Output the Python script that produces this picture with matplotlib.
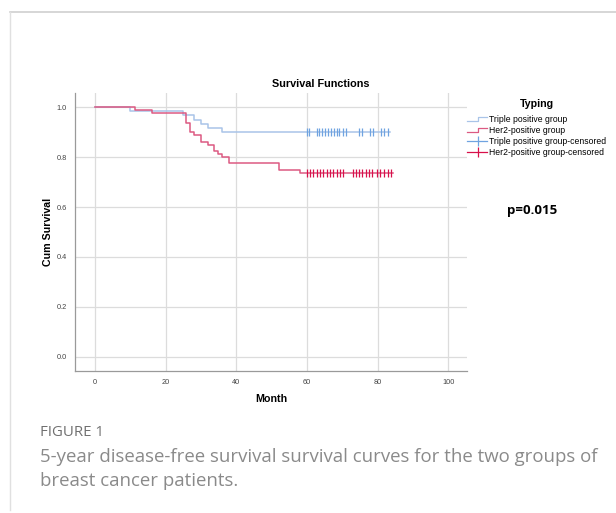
import matplotlib
matplotlib.use("Agg")
import matplotlib.pyplot as plt
from matplotlib.lines import Line2D
from matplotlib.legend_handler import HandlerBase

# Kaplan-Meier steps (month, survival after the step)
tp_times = [0, 9.9, 25.0, 28.1, 30.0, 32.0, 35.9]
tp_surv = [1.0, 0.983, 0.967, 0.950, 0.933, 0.917, 0.900]
tp_end = 83.5
tp_cens = [60.0, 60.7, 62.8, 63.5, 64.4, 65.2, 66.1, 66.8, 67.7, 68.5,
           69.2, 70.1, 71.0, 74.8, 75.6, 77.9, 78.6, 80.9, 81.8, 83.0]

h2_times = [0, 11.3, 16.3, 25.8, 26.8, 28.0, 30.0, 32.0, 33.8, 34.8, 35.9, 38.0, 52.0, 58.0]
h2_surv = [1.0, 0.9875, 0.975, 0.9375, 0.900, 0.8875, 0.8625, 0.850, 0.825,
           0.8125, 0.800, 0.775, 0.750, 0.7375]
h2_end = 84.4
h2_cens = [60.0, 60.8, 61.8, 62.8, 63.7, 64.6, 65.6, 66.5, 67.4, 68.4, 69.3, 70.1,
           72.9, 73.8, 74.8, 75.7, 76.6, 77.6, 78.5, 79.7, 80.8, 81.8, 83.0, 83.9]

labels = ["Triple positive group", "Her2-positive group",
          "Triple positive group-censored", "Her2-positive group-censored"]

blue_line = "#a9c4e8"
blue_mark = "#6fa3e0"
red_line = "#dc5a82"
red_mark = "#d8104a"

W, H = 616, 513
fig = plt.figure(figsize=(W / 100, H / 100), dpi=100)
ax = fig.add_axes([75 / W, 1 - 371 / H, (466.7 - 75) / W, (371 - 93) / H])

ax.step(tp_times + [tp_end], tp_surv + [tp_surv[-1]], where="post", color=blue_line, lw=1.1)
ax.step(h2_times + [h2_end], h2_surv + [h2_surv[-1]], where="post", color=red_line, lw=1.1)
ax.plot(tp_cens, [tp_surv[-1]] * len(tp_cens), ls="none", marker="|", ms=5.5, mew=0.9, color=blue_mark)
ax.plot(h2_cens, [h2_surv[-1]] * len(h2_cens), ls="none", marker="|", ms=5.5, mew=0.9, color=red_mark)

ax.set_xlim(-5.6, 105.2)
ax.set_ylim(-0.057, 1.057)
ax.set_xticks([0, 20, 40, 60, 80, 100])
ax.set_yticks([0.0, 0.2, 0.4, 0.6, 0.8, 1.0])
ax.set_yticklabels(["0.0", "0.2", "0.4", "0.6", "0.8", "1.0"])
ax.tick_params(length=0, labelsize=5.3, labelcolor="#444444", pad=6)
ax.grid(True, color="#dcdcdc", lw=0.9)
ax.set_axisbelow(True)
for s in ["top", "right"]:
    ax.spines[s].set_visible(False)
for s in ["left", "bottom"]:
    ax.spines[s].set_color("#9a9a9a")
    ax.spines[s].set_linewidth(0.9)

ax.set_xlabel("Month", fontsize=7.7, fontweight="bold", family="Liberation Sans", labelpad=5.5)
ax.set_ylabel("Cum Survival", fontsize=7.7, fontweight="bold", family="Liberation Sans", labelpad=2.5)
for t in ax.get_xticklabels() + ax.get_yticklabels():
    t.set_family("Liberation Sans")

fig.text(321 / W, 1 - 84 / H, "Survival Functions", ha="center", va="center",
         fontsize=7.8, fontweight="bold", family="Liberation Sans")


class StepHandler(HandlerBase):
    def create_artists(self, legend, orig, xd, yd, width, height, fontsize, trans):
        x0, x1 = xd, xd + width
        y0, y1 = yd + height * 0.2, yd + height * 0.85
        xm = x0 + width * 0.55
        ln = Line2D([x0, xm, xm, x1], [y0, y0, y1, y1], color=orig.get_color(), lw=0.9, transform=trans)
        return [ln]


class CrossHandler(HandlerBase):
    def create_artists(self, legend, orig, xd, yd, width, height, fontsize, trans):
        yc = yd + height / 2
        xm = xd + width * 0.55
        ln = Line2D([xd, xd + width], [yc, yc], color=orig.get_color(), lw=0.9, transform=trans)
        mk = Line2D([xm], [yc], marker="|", ms=7, mew=0.9, color=orig.get_color(), transform=trans)
        return [ln, mk]


h_tp = Line2D([], [], color=blue_line)
h_h2 = Line2D([], [], color=red_line)
h_tpc = Line2D([], [], color=blue_mark)
h_h2c = Line2D([], [], color=red_mark)
leg = fig.legend([h_tp, h_h2, h_tpc, h_h2c], labels,
                 handler_map={h_tp: StepHandler(), h_h2: StepHandler(),
                              h_tpc: CrossHandler(), h_h2c: CrossHandler()},
                 loc="upper left", bbox_to_anchor=(464 / W, 1 - 96 / H),
                 frameon=False, title="Typing",
                 prop={"family": "Liberation Sans", "size": 6.2},
                 handlelength=2.3, handletextpad=0.15, labelspacing=0.22, borderaxespad=0)
leg.get_title().set_fontweight("bold")
leg.get_title().set_fontsize(7.7)
leg.get_title().set_family("Liberation Sans")
leg._legend_box.align = "center"
leg._legend_box.sep = 4

fig.text(532 / W, 1 - 211 / H, "p=0.015", ha="center", va="center",
         fontsize=9.5, fontweight="bold", family="Open Sans")

# page frame lines
fig.add_artist(Line2D([10 / W, 1], [1 - 11.5 / H] * 2, color="#d0d0d0", lw=1.2))
fig.add_artist(Line2D([10 / W] * 2, [1 - 11.5 / H, 1 - 510 / H], color="#e0e0e0", lw=1.0))

fig.text(40 / W, 1 - 433 / H, "FIGURE 1", ha="left", va="center",
         fontsize=10.8, color="#707070", family="Open Sans")
fig.text(40 / W, 1 - 457 / H, "5-year disease-free survival survival curves for the two groups of",
         ha="left", va="center", fontsize=13.4, color="#8a8a8a", family="Open Sans")
fig.text(40 / W, 1 - 481 / H, "breast cancer patients.",
         ha="left", va="center", fontsize=13.4, color="#8a8a8a", family="Open Sans")

fig.savefig("out.png", dpi=100)
